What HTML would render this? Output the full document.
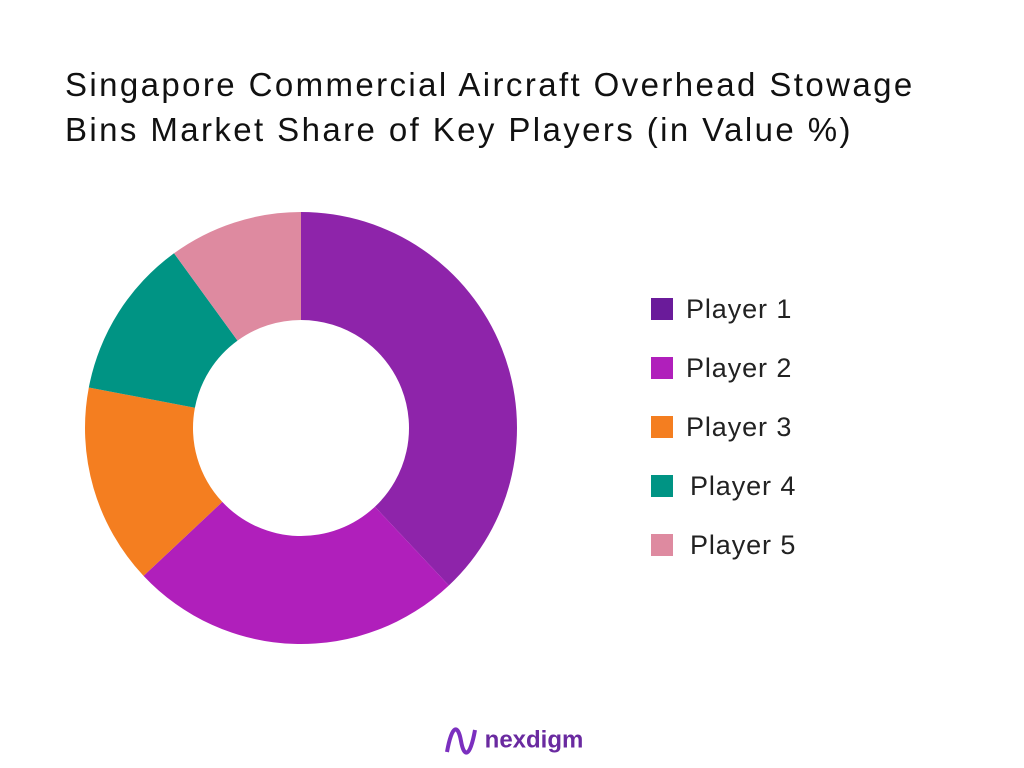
<!DOCTYPE html>
<html><head><meta charset="utf-8"><style>
body{margin:0;width:1024px;height:768px;background:#fff;font-family:"Liberation Sans",sans-serif;overflow:hidden;position:relative}
#title{position:absolute;left:65px;top:62px;font-size:33px;line-height:45px;color:#111;letter-spacing:2.4px;white-space:nowrap}
.leg{position:absolute;left:651px;font-size:27px;color:#222;height:30px;line-height:30px;letter-spacing:0.9px}
.leg span{display:inline-block;width:22px;height:22px;vertical-align:middle;margin-right:13px;margin-top:-4px}
#logo{position:absolute;left:444px;top:724px;font-size:24px;font-weight:bold;color:#6a2aa0}
</style></head><body>
<div id="title">Singapore Commercial Aircraft Overhead Stowage<br>Bins Market Share of Key Players (in Value %)</div>
<svg id="chart" width="1024" height="768" style="position:absolute;left:0;top:0"></svg>
<div id="legend"></div>
<div id="logo"><svg width="34" height="34" viewBox="0 0 34 34" style="vertical-align:middle"><path d="M3 28 C8 0,14 0,17 17 C20 34,26 34,31 6" stroke="#7b2fbf" stroke-width="4" fill="none"/></svg> nexdigm</div>
<script>
const categories=["Player 1","Player 2","Player 3","Player 4","Player 5"];
const values=[38,25,15,12,10];
const colors=["#8E24AA","#B01FBB","#F47E20","#009484","#DE8AA0"];
const legendColors=["#6A1B9A","#B01FBB","#F47E20","#009484","#DE8AA0"];
const svg=document.getElementById('chart');
const cx=301,cy=428,R=216,r=108;
const total=values.reduce((a,b)=>a+b,0);
let a0=0;
function pt(a,rad){return [cx+rad*Math.sin(a),cy-rad*Math.cos(a)];}
values.forEach((v,i)=>{
 const a1=a0+v/total*2*Math.PI;
 const large=(a1-a0)>Math.PI?1:0;
 const [x1,y1]=pt(a0,R),[x2,y2]=pt(a1,R),[x3,y3]=pt(a1,r),[x4,y4]=pt(a0,r);
 const p=document.createElementNS('http://www.w3.org/2000/svg','path');
 p.setAttribute('d',`M${x1} ${y1}A${R} ${R} 0 ${large} 1 ${x2} ${y2}L${x3} ${y3}A${r} ${r} 0 ${large} 0 ${x4} ${y4}Z`);
 p.setAttribute('fill',colors[i]);
 
 
 svg.appendChild(p);
 a0=a1;
});
const leg=document.getElementById('legend');
categories.forEach((c,i)=>{
 const d=document.createElement('div');
 d.className='leg';
 d.style.top=(294+i*59)+'px';
 
 
 d.innerHTML=`<span style="background:${legendColors[i]};margin-right:${i>=3?17:13}px"></span>${c}`;
 leg.appendChild(d);
});
</script>
</body></html>
